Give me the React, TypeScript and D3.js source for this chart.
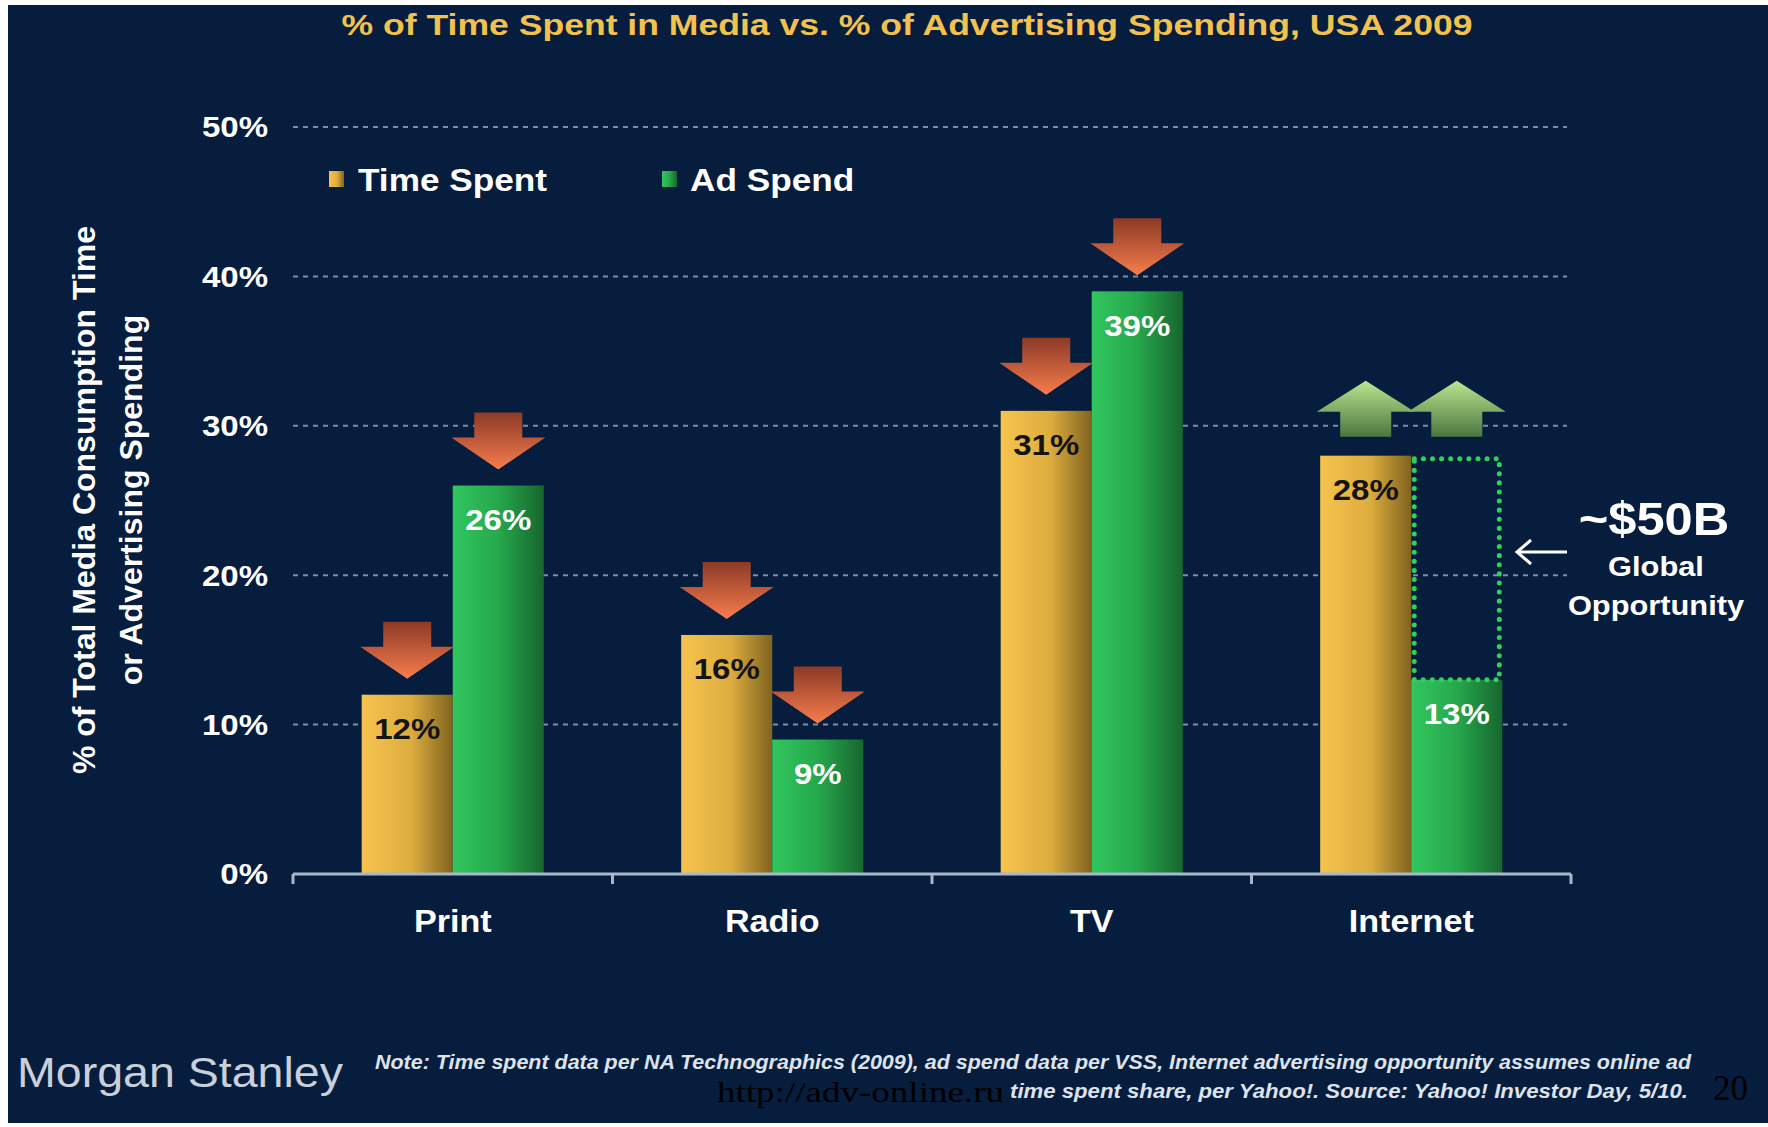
import React from "react";
import * as d3 from "d3";

const categories = ["Print", "Radio", "TV", "Internet"];
const series = ["Time Spent", "Ad Spend"];
const timeSpent = [12, 16, 31, 28];
const adSpend = [26, 9, 39, 13];
const arrowDir = ["down", "down", "down", "up"];
const yTicks = [0, 10, 20, 30, 40, 50];
const opportunityFrom = 13;
const opportunityTo = 28;

const W = 1768;
const H = 1127;
const SX = 1.1;
const FONT = "'Liberation Sans', Arial, Helvetica, sans-serif";

export default function App() {
  const x0 = d3.scaleBand<string>().domain(categories).range([293, 1571]).paddingInner(0).paddingOuter(0);
  const bw = x0.bandwidth();
  const x1 = d3.scaleBand<string>().domain(series).range([bw * 0.215, bw * 0.785]).padding(0);
  const y = d3.scaleLinear().domain([0, 50]).range([874, 127]);
  const barW = x1.bandwidth();
  const line = d3.line<[number, number]>();

  const downArrow = (cx: number, tipY: number) => {
    const w = 94, sw = 48, hh = 32, sh = 25;
    const pts: [number, number][] = [
      [cx - sw / 2, tipY - hh - sh], [cx + sw / 2, tipY - hh - sh], [cx + sw / 2, tipY - hh],
      [cx + w / 2, tipY - hh], [cx, tipY], [cx - w / 2, tipY - hh], [cx - sw / 2, tipY - hh],
    ];
    return line(pts) + "Z";
  };
  const upArrow = (cx: number, baseY: number) => {
    const w = 98, sw = 51, hh = 31, sh = 25;
    const pts: [number, number][] = [
      [cx - sw / 2, baseY], [cx + sw / 2, baseY], [cx + sw / 2, baseY - sh],
      [cx + w / 2, baseY - sh], [cx, baseY - sh - hh], [cx - w / 2, baseY - sh], [cx - sw / 2, baseY - sh],
    ];
    return line(pts) + "Z";
  };

  const seriesVals = [timeSpent, adSpend];
  const seriesFill = ["url(#gTime)", "url(#gAd)"];
  const labelFill = ["#141414", "#ffffff"];

  const txt = (x: number, yy: number, s: string, size: number, anchor: string, fill: string, extra: any = {}) => (
    <text
      transform={`translate(${x},${yy}) scale(${SX},1)`}
      textAnchor={anchor}
      dominantBaseline="central"
      fontFamily={FONT}
      fontWeight="bold"
      fontSize={size}
      fill={fill}
      {...extra}
    >
      {s}
    </text>
  );

  return (
    <svg width={W} height={H} style={{ position: "absolute", left: 0, top: 0, display: "block" }}>
      <defs>
        <linearGradient id="gTime" x1="0" x2="1" y1="0" y2="0">
          <stop offset="0%" stopColor="#f6c44e" />
          <stop offset="55%" stopColor="#dcac3e" />
          <stop offset="100%" stopColor="#80631f" />
        </linearGradient>
        <linearGradient id="gAd" x1="0" x2="1" y1="0" y2="0">
          <stop offset="0%" stopColor="#31c65e" />
          <stop offset="50%" stopColor="#26a84c" />
          <stop offset="100%" stopColor="#17662e" />
        </linearGradient>
        <linearGradient id="gDown" x1="0" x2="0" y1="0" y2="1">
          <stop offset="0%" stopColor="#8c3a27" />
          <stop offset="100%" stopColor="#f77d4d" />
        </linearGradient>
        <linearGradient id="gUp" x1="0" x2="0" y1="0" y2="1">
          <stop offset="0%" stopColor="#bce690" />
          <stop offset="100%" stopColor="#4a773f" />
        </linearGradient>
      </defs>
      <rect x={0} y={0} width={W} height={H} fill="#ffffff" />
      <rect x={8} y={5} width={W - 8} height={1118} fill="#071d3d" />

      {/* Title */}
      <text x={907} y={35} textAnchor="middle" fontFamily={FONT} fontWeight="bold" fontSize={30}
        fill="#f2c14e" textLength={1131} lengthAdjust="spacingAndGlyphs">
        % of Time Spent in Media vs. % of Advertising Spending, USA 2009
      </text>

      {/* Grid */}
      {yTicks.filter((t) => t > 0).map((t) => (
        <line key={"g" + t} x1={293} x2={1567} y1={y(t)} y2={y(t)} stroke="#7f8ca4" strokeWidth={2} strokeDasharray="5,5" />
      ))}
      {/* Y tick labels */}
      {yTicks.map((t) => (
        <g key={"t" + t}>{txt(268, y(t), `${t}%`, 30, "end", "#ffffff")}</g>
      ))}

      {/* Y axis title */}
      <g transform={`translate(84,500) rotate(-90)`}>
        <text textAnchor="middle" dominantBaseline="central" fontFamily={FONT} fontWeight="bold" fontSize={32} fill="#ffffff">
          % of Total Media Consumption Time
        </text>
      </g>
      <g transform={`translate(131,500) rotate(-90)`}>
        <text textAnchor="middle" dominantBaseline="central" fontFamily={FONT} fontWeight="bold" fontSize={32} fill="#ffffff">
          or Advertising Spending
        </text>
      </g>

      {/* Legend */}
      <rect x={329} y={171} width={15} height={16} fill="url(#gTime)" />
      {txt(358, 180, series[0], 32, "start", "#ffffff")}
      <rect x={662} y={171} width={15} height={16} fill="url(#gAd)" />
      {txt(690, 180, series[1], 32, "start", "#ffffff")}

      {/* Bars */}
      {categories.map((c, i) => (
        <g key={c} transform={`translate(${x0(c)},0)`}>
          {series.map((s, k) => {
            const v = seriesVals[k][i];
            const bx = x1(s)!;
            return (
              <g key={s}>
                <rect x={bx} y={y(v)} width={barW} height={y(0) - y(v)} fill={seriesFill[k]} />
                {txt(bx + barW / 2, y(v) + 34, `${v}%`, 30, "middle", labelFill[k])}
              </g>
            );
          })}
        </g>
      ))}

      {/* Internet opportunity dotted box */}
      {(() => {
        const c = categories[3];
        const bx = x0(c)! + x1(series[1])!;
        return (
          <rect x={bx + 3} y={y(opportunityTo) + 3} width={barW - 6} height={y(opportunityFrom) - y(opportunityTo) - 3}
            fill="none" stroke="#2fd05c" strokeWidth={5} strokeDasharray="0.1,9" strokeLinecap="round" />
        );
      })()}

      {/* Arrows */}
      {categories.map((c, i) =>
        series.map((s, k) => {
          const cx = x0(c)! + x1(s)! + barW / 2;
          if (arrowDir[i] === "down") {
            return <path key={c + s} d={downArrow(cx, y(seriesVals[k][i]) - 16)} fill="url(#gDown)" />;
          }
          return <path key={c + s} d={upArrow(cx, y(opportunityTo) - 19)} fill="url(#gUp)" />;
        })
      )}

      {/* X axis */}
      <line x1={293} x2={1571} y1={874} y2={874} stroke="#aab6ca" strokeWidth={3} />
      {[...categories.map((c) => x0(c)!), 1571].map((t, i) => (
        <line key={"xt" + i} x1={t} x2={t} y1={874} y2={884} stroke="#aab6ca" strokeWidth={3} />
      ))}
      {categories.map((c) => (
        <g key={"cl" + c}>{txt(x0(c)! + bw / 2, 922, c, 31, "middle", "#ffffff")}</g>
      ))}

      {/* Opportunity annotation */}
      <line x1={1518} x2={1567} y1={552} y2={552} stroke="#ffffff" strokeWidth={3} />
      <polyline points="1531,540 1517,552 1531,564" fill="none" stroke="#ffffff" strokeWidth={3} />
      {txt(1654, 519, "~$50B", 46, "middle", "#ffffff")}
      {txt(1656, 566, "Global", 28, "middle", "#ffffff")}
      {txt(1656, 605, "Opportunity", 28, "middle", "#ffffff")}

      {/* Footer */}
      <text x={17} y={1087} fontFamily={FONT} fontSize={42} fill="#c8d0dc" textLength={326} lengthAdjust="spacingAndGlyphs">
        Morgan Stanley
      </text>
      <text x={375} y={1069} fontFamily={FONT} fontWeight="bold" fontStyle="italic" fontSize={20} fill="#dde3ec"
        textLength={1316} lengthAdjust="spacingAndGlyphs">
        Note: Time spent data per NA Technographics (2009), ad spend data per VSS, Internet advertising opportunity assumes online ad
      </text>
      <text x={1688} y={1098} textAnchor="end" fontFamily={FONT} fontWeight="bold" fontStyle="italic" fontSize={20} fill="#dde3ec"
        textLength={678} lengthAdjust="spacingAndGlyphs">
        time spent share, per Yahoo!. Source: Yahoo! Investor Day, 5/10.
      </text>
      <text x={717} y={1102} fontFamily="'Liberation Serif', 'Times New Roman', serif" fontSize={30} fill="#000000"
        textLength={287} lengthAdjust="spacingAndGlyphs">
        http://adv-online.ru
      </text>
      <text x={1713} y={1100} fontFamily="'Liberation Serif', 'Times New Roman', serif" fontSize={36} fill="#000000"
        textLength={35} lengthAdjust="spacingAndGlyphs">
        20
      </text>
    </svg>
  );
}
